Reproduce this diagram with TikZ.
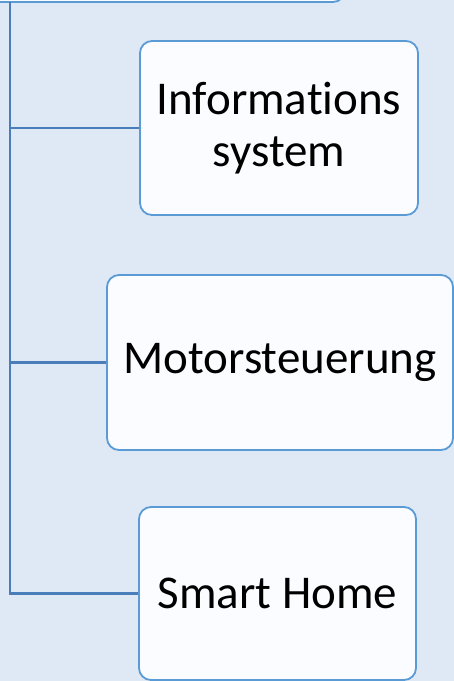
\documentclass[tikz,border=0pt]{standalone}
\usepackage{fontspec}
\setmainfont[Ligatures=NoCommon]{Carlito}
\usetikzlibrary{positioning}
\definecolor{bgblue}{RGB}{222,233,245}
\definecolor{boxline}{RGB}{91,155,213}
\definecolor{boxfill}{RGB}{250,252,255}
\definecolor{connline}{RGB}{74,126,187}
\tikzset{
    x=1pt,y=-1pt,
    box/.style ={draw=boxline, fill=boxfill, rounded corners=12pt, line width=1.8pt,
                 align=center, inner sep=0pt, font=\fontsize{47}{52}\selectfont},
    conn/.style={draw=connline, line width=2.3pt}
}
\begin{document}
\begin{tikzpicture}
	\path[fill=bgblue,use as bounding box] (0,0) rectangle (454,681);
	\clip (0,0) rectangle (454,681);
	% boxes
	\node[box, minimum width=445pt, minimum height=100pt] (0) at (122.5,-48) {};
	\node[box, minimum width=278pt, minimum height=174pt] (1) at (279,128) {Informations\\system};
	\node[box, minimum width=346pt, minimum height=175pt] (2) at (280,362.5) {Motorsteuerung};
	\node[box, minimum width=277pt, minimum height=173pt] (3) at (277.5,593.5) {Smart Home};

	\coordinate (4) at (10,2);
	\path[conn] (4) |- (3.west);
	\path[conn] (1.west) -- (1.west -| 4);
	\path[conn] (2.west) -- (2.west -| 4);
\end{tikzpicture}
\end{document}
